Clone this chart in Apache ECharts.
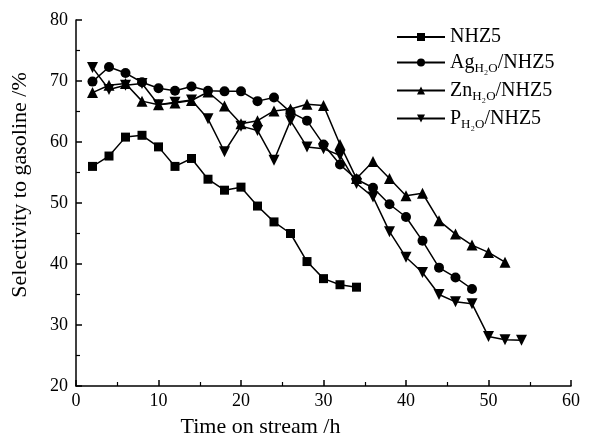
<!DOCTYPE html>
<html><head><meta charset="utf-8">
<script src="https://cdn.jsdelivr.net/npm/echarts@6/dist/echarts.min.js"></script>
<style>html,body{margin:0;padding:0;background:#fff}#c{width:589px;height:443px}</style>
</head><body><div id="c"></div>
<script>
// Time on stream (h)
const timesNHZ5 = [2,4,6,8,10,12,14,16,18,20,22,24,26,28,30,32,34];
const timesAg   = [2,4,6,8,10,12,14,16,18,20,22,24,26,28,30,32,34,36,38,40,42,44,46,48];
const timesZn   = [2,4,6,8,10,12,14,16,18,20,22,24,26,28,30,32,34,36,38,40,42,44,46,48,50,52];
const timesP    = [2,4,6,8,10,12,14,16,18,20,22,24,26,28,30,32,34,36,38,40,42,44,46,48,50,52,54];
// Selectivity to gasoline (%)
const nhz5 = [56.0,57.7,60.8,61.1,59.2,56.0,57.3,53.9,52.1,52.6,49.5,46.9,45.0,40.4,37.6,36.6,36.2];
const ag   = [69.9,72.3,71.3,69.8,68.8,68.4,69.1,68.4,68.3,68.3,66.7,67.3,64.9,63.5,59.6,56.3,53.9,52.5,49.8,47.7,43.8,39.4,37.8,35.9];
const zn   = [68.1,69.3,69.6,66.7,66.1,66.4,66.8,68.2,65.9,63.0,63.5,65.1,65.4,66.2,66.0,59.6,54.0,56.8,54.0,51.2,51.6,47.1,44.9,43.1,41.9,40.3];
const pp   = [72.2,68.6,69.3,69.6,66.1,66.5,66.9,63.8,58.4,62.6,61.9,57.0,63.5,59.2,58.9,57.8,53.2,51.0,45.3,41.1,38.6,35.0,33.8,33.5,28.1,27.6,27.5];
const seriesNames = ['NHZ5','Ag/NHZ5','Zn/NHZ5','P/NHZ5'];
const legendRich = {
  NHZ5: '{a|NHZ5}',
  'Ag/NHZ5': '{a|Ag}{s|H₂O}{a|/NHZ5}',
  'Zn/NHZ5': '{a|Zn}{s|H₂O}{a|/NHZ5}',
  'P/NHZ5': '{a|P}{s|H₂O}{a|/NHZ5}'
};

const pairs = (t, v) => t.map((x, i) => [x, v[i]]);
const font = 'Liberation Serif';
const chart = echarts.init(document.getElementById('c'), null, {renderer: 'canvas'});

function mk(name, t, v, symbol, size, rot) {
  return {
    name, type: 'line', data: pairs(t, v),
    symbol, symbolSize: size, symbolRotate: rot || 0,
    showAllSymbol: true,
    lineStyle: {color: '#000', width: 1.5},
    itemStyle: {color: '#000', borderWidth: 0},
    emphasis: {disabled: true},
    animation: false
  };
}

chart.setOption({
  backgroundColor: '#fff',
  animation: false,
  grid: {left: 76, right: 18, top: 20, bottom: 53},
  legend: {
    orient: 'vertical', left: 391, top: 22,
    itemWidth: 48, itemHeight: 10, itemGap: 3,
    data: seriesNames,
    formatter: n => legendRich[n],
    textStyle: {
      fontFamily: font, color: '#000',
      rich: {
        a: {fontFamily: font, fontSize: 20, lineHeight: 24, color: '#000'},
        s: {fontFamily: font, fontSize: 13, lineHeight: 13, padding: [12, 0, 0, 0], color: '#000'}
      }
    }
  },
  xAxis: {
    type: 'value', min: 0, max: 60, interval: 10,
    name: 'Time on stream /h', nameLocation: 'middle', nameGap: 30,
    nameTextStyle: {fontFamily: font, fontSize: 22, color: '#000', padding: [0, 126, 0, 0]},
    axisLine: {lineStyle: {color: '#000', width: 1.5}},
    axisTick: {inside: true, length: 6, lineStyle: {color: '#000', width: 1.5}},
    minorTick: {show: true, splitNumber: 2, length: 4, lineStyle: {color: '#000', width: 1.2}},
    axisLabel: {fontFamily: font, fontSize: 18, color: '#000', margin: 6},
    splitLine: {show: false}
  },
  yAxis: {
    type: 'value', min: 20, max: 80, interval: 10,
    name: 'Selectivity to gasoline /%', nameLocation: 'middle', nameGap: 45,
    nameTextStyle: {fontFamily: font, fontSize: 22, color: '#000', padding: [0, 0, 0, 36]},
    axisLine: {lineStyle: {color: '#000', width: 1.5}},
    axisTick: {inside: true, length: 6, lineStyle: {color: '#000', width: 1.5}},
    minorTick: {show: true, splitNumber: 2, length: 4, lineStyle: {color: '#000', width: 1.2}},
    axisLabel: {fontFamily: font, fontSize: 18, color: '#000', margin: 8},
    splitLine: {show: false}
  },
  series: [
    mk('NHZ5', timesNHZ5, nhz5, 'rect', 9),
    mk('Ag/NHZ5', timesAg, ag, 'circle', 10),
    mk('Zn/NHZ5', timesZn, zn, 'triangle', 11),
    mk('P/NHZ5', timesP, pp, 'triangle', 11, 180)
  ]
});
</script>
</body></html>
